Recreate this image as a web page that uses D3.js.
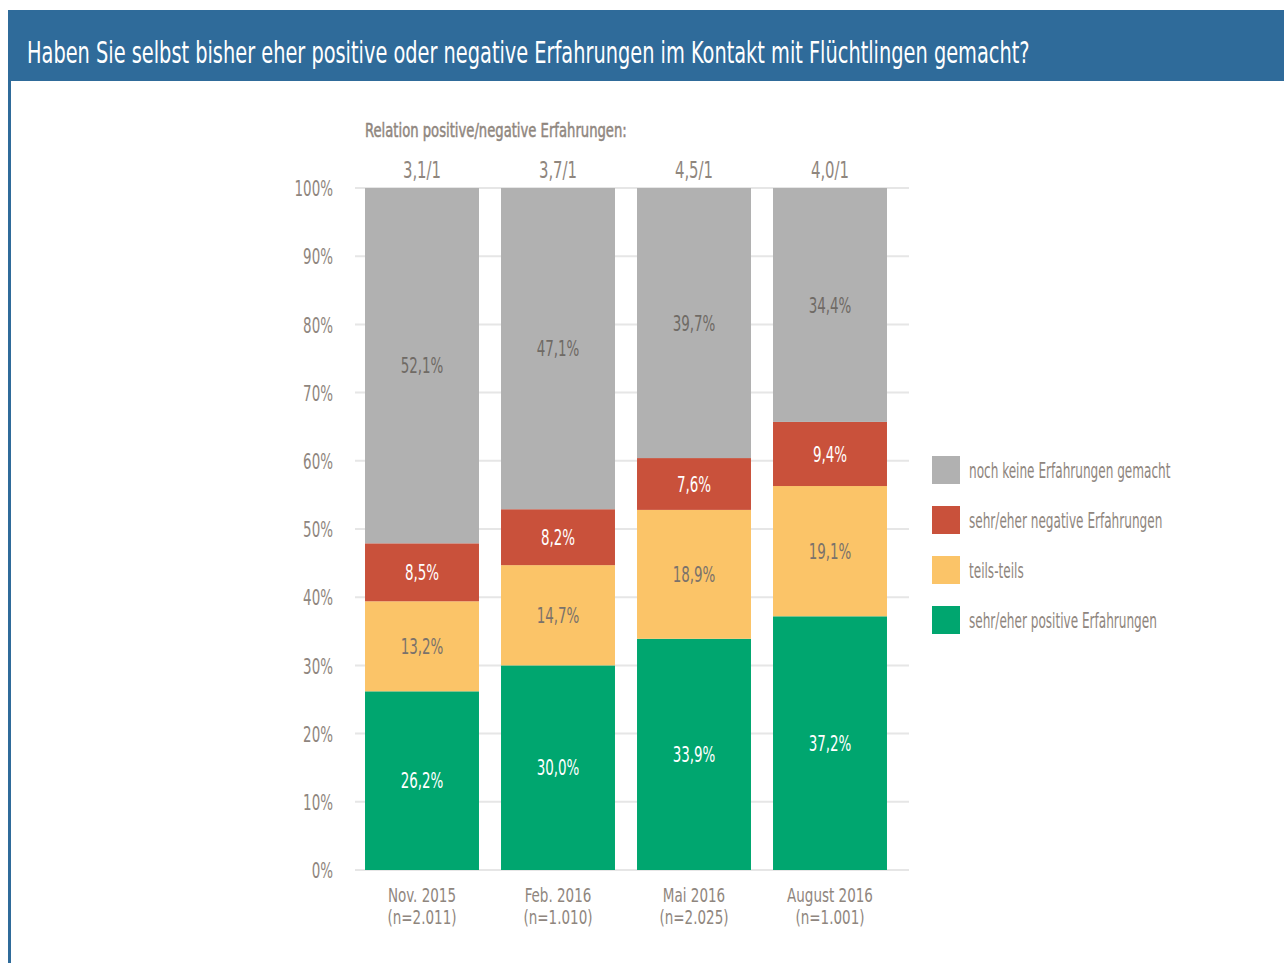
<!DOCTYPE html>
<html>
<head>
<meta charset="utf-8">
<script src="https://cdn.jsdelivr.net/npm/d3@7"></script>
<style>
  body { margin: 0; background: #fff; }
  svg text { font-family: "DejaVu Sans Condensed", "Liberation Sans", sans-serif; }
</style>
</head>
<body>
<div id="chart"></div>
<script>
// data
var categories = ["Nov. 2015", "Feb. 2016", "Mai 2016", "August 2016"];
var sampleSizes = ["(n=2.011)", "(n=1.010)", "(n=2.025)", "(n=1.001)"];
var ratios = ["3,1/1", "3,7/1", "4,5/1", "4,0/1"];
var seriesNames = ["sehr/eher positive Erfahrungen", "teils-teils", "sehr/eher negative Erfahrungen", "noch keine Erfahrungen gemacht"];
var positive = [26.2, 30.0, 33.9, 37.2];
var partly = [13.2, 14.7, 18.9, 19.1];
var negative = [8.5, 8.2, 7.6, 9.4];
var none = [52.1, 47.1, 39.7, 34.4];
var yTicks = [0, 10, 20, 30, 40, 50, 60, 70, 80, 90, 100];

var colors = ["#00a66f", "#fbc468", "#c9513b", "#b1b1b1"];
var labelColors = ["#ffffff", "#7a726b", "#ffffff", "#6f6a65"];
var textGrey = "#8f867e";

var W = 1284, H = 963;
var svg = d3.select("#chart").append("svg")
    .attr("width", W)
    .attr("height", H);

// the original uses a condensed typeface: squeeze the text horizontally around its x
function squeeze(sel, k) {
  sel.each(function() {
    var t = d3.select(this);
    var x0 = +t.attr("x") || 0;
    t.attr("transform", "translate(" + x0 + ",0) scale(" + k + ",1) translate(" + (-x0) + ",0)");
  });
}

// header bar + left frame line
svg.append("rect").attr("x", 8).attr("y", 10).attr("width", W - 8).attr("height", 71).attr("fill", "#2f6b9a");
svg.append("rect").attr("x", 8).attr("y", 81).attr("width", 3).attr("height", H - 81).attr("fill", "#2f6b9a");
var title = svg.append("text")
    .attr("x", 27).attr("y", 63)
    .attr("fill", "#fff")
    .style("font-size", "31px")
    .text("Haben Sie selbst bisher eher positive oder negative Erfahrungen im Kontakt mit Flüchtlingen gemacht?");
squeeze(title, 1003 / title.node().getComputedTextLength());

var x = d3.scaleBand()
    .domain(categories)
    .range([354, 898])
    .paddingInner(0.162)
    .paddingOuter(0.081);

var y = d3.scaleLinear()
    .domain([0, 100])
    .range([870, 188]);

// gridlines
svg.append("g").selectAll("line")
    .data(yTicks)
  .enter().append("line")
    .attr("x1", 355).attr("x2", 909)
    .attr("y1", function(d) { return y(d); })
    .attr("y2", function(d) { return y(d); })
    .attr("stroke", "#e6e6e6")
    .attr("stroke-width", 2);

// y axis labels
var yAxis = d3.axisLeft(y)
    .tickValues(yTicks)
    .tickFormat(function(d) { return d + "%"; })
    .tickSize(0)
    .tickPadding(0);
var yg = svg.append("g")
    .attr("transform", "translate(333,0)")
    .call(yAxis);
yg.select(".domain").remove();
yg.selectAll("text")
    .attr("fill", textGrey)
    .attr("dy", "0.35em")
    .style("font-size", "22px")
    .style("font-family", "DejaVu Sans Condensed");
squeeze(yg.selectAll("text"), 0.68);

// stacked bars
var rows = categories.map(function(c, i) {
  return { cat: c, pos: positive[i], partly: partly[i], neg: negative[i], none: none[i] };
});
var stack = d3.stack().keys(["pos", "partly", "neg", "none"]);
var layers = stack(rows);

var layer = svg.append("g").selectAll("g")
    .data(layers)
  .enter().append("g")
    .attr("fill", function(d, i) { return colors[i]; });

layer.selectAll("rect")
    .data(function(d) { return d; })
  .enter().append("rect")
    .attr("x", function(d) { return x(d.data.cat); })
    .attr("width", x.bandwidth())
    .attr("y", function(d) { return y(Math.min(d[1], 100)); })
    .attr("height", function(d) { return y(d[0]) - y(Math.min(d[1], 100)); });

// value labels
layers.forEach(function(l, i) {
  var vl = svg.append("g").selectAll("text")
      .data(l)
    .enter().append("text")
      .attr("x", function(d) { return x(d.data.cat) + x.bandwidth() / 2; })
      .attr("y", function(d) { return (y(d[0]) + y(Math.min(d[1], 100))) / 2; })
      .attr("dy", "0.35em")
      .attr("text-anchor", "middle")
      .attr("fill", labelColors[i])
      .style("font-size", "22px")
      .text(function(d) { return d3.format(".1f")(d[1] - d[0]).replace(".", ",") + "%"; });
  squeeze(vl, 0.68);
});

// ratio header
var sub = svg.append("text")
    .attr("x", 365).attr("y", 137)
    .attr("fill", textGrey)
    .attr("stroke", textGrey)
    .attr("stroke-width", 0.5)
    .style("font-size", "20px")
    .text("Relation positive/negative Erfahrungen:");
squeeze(sub, 262 / sub.node().getComputedTextLength());

var rl = svg.append("g").selectAll("text")
    .data(ratios)
  .enter().append("text")
    .attr("x", function(d, i) { return x(categories[i]) + x.bandwidth() / 2; })
    .attr("y", 178)
    .attr("text-anchor", "middle")
    .attr("fill", textGrey)
    .style("font-size", "23px")
    .text(function(d) { return d; });
squeeze(rl, 0.72);

// category labels
var catLines = [categories, sampleSizes];
catLines.forEach(function(lines, j) {
  var cl = svg.append("g").selectAll("text")
      .data(lines)
    .enter().append("text")
      .attr("x", function(d, i) { return x(categories[i]) + x.bandwidth() / 2; })
      .attr("y", 902 + j * 22)
      .attr("text-anchor", "middle")
      .attr("fill", textGrey)
      .style("font-size", "19px")
      .text(function(d) { return d; });
  squeeze(cl, 0.79);
});

// legend (top to bottom: none, negative, partly, positive)
var legendOrder = [3, 2, 1, 0];
var leg = svg.append("g").selectAll("g")
    .data(legendOrder)
  .enter().append("g")
    .attr("transform", function(d, i) { return "translate(932," + (456 + i * 50) + ")"; });
leg.append("rect")
    .attr("width", 28).attr("height", 28)
    .attr("fill", function(d) { return colors[d]; });
var lt = leg.append("text")
    .attr("x", 37).attr("y", 15)
    .attr("dy", "0.35em")
    .attr("fill", textGrey)
    .style("font-size", "21px")
    .text(function(d) { return seriesNames[d]; });
squeeze(lt, 0.64);
</script>
</body>
</html>
